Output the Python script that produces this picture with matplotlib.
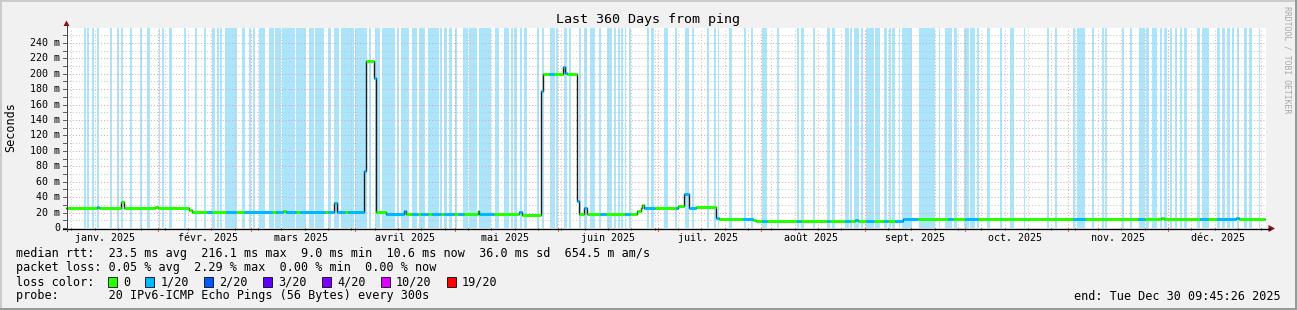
import matplotlib
matplotlib.use("Agg")
import matplotlib.pyplot as plt
from matplotlib.patches import Rectangle, Polygon
from matplotlib.lines import Line2D
from datetime import datetime, timedelta

# ---------------- data ----------------
end_time = datetime(2025, 12, 30, 9, 45, 26)
span_days = 360
start_time = end_time - timedelta(days=span_days)

title = "Last 360 Days from ping"
y_label = "Seconds"
y_upper_ms = 259.32          # smokeping upper limit (1.2 x max)
y_tick_ms = list(range(0, 241, 20))

# median rtt step series: start (days since start_time), value (ms), loss class index
rtt_day = [0, 9.2, 9.9, 16.5, 17.4, 26.7, 27.6, 37.0, 37.7, 42.3, 43.8, 48.0, 51.0, 53.4,
           61.8, 63.0, 65.1, 65.9, 69.0, 70.2, 77.7, 78.6, 80.3, 81.2, 83.7, 84.6, 89.3,
           90.1, 92.5, 93.1, 96.0, 101.3, 102.0, 103.8, 105.6, 106.5, 108.6, 109.8, 112.5,
           113.4, 116.4, 117.6, 119.4, 123.6, 124.0, 128.4, 135.9, 136.9, 142.6, 143.2,
           144.9, 146.4, 149.0, 149.6, 150.3, 153.2, 153.9, 155.4, 156.2, 160.2, 162.0,
           167.7, 169.2, 171.4, 172.4, 172.9, 173.4, 176.7, 183.0, 183.6, 185.5, 186.8,
           189.0, 195.0, 195.8, 203.1, 206.2, 207.0, 208.8, 210.3, 219.3, 220.5, 228.3,
           229.2, 233.7, 235.2, 236.7, 237.6, 240.0, 242.4, 245.4, 246.6, 248.7, 251.1,
           255.6, 264.6, 266.1, 269.7, 273.6, 302.1, 305.7, 321.6, 323.7, 328.4, 329.4,
           340.2, 342.6, 345.3, 351.0, 351.8]
rtt_ms = [26.5, 27.5, 26.5, 34, 26.5, 27.5, 26.5, 23, 20.5, 20.5, 20.5, 20.5, 20.5, 20.5,
          20.5, 20.5, 22.5, 20.5, 20.5, 20.5, 20.5, 20.5, 32, 20.5, 20.5, 20.5, 74,
          216.1, 194, 20.5, 17.8, 22, 17.8, 17.8, 17.8, 17.8, 17.8, 17.8, 17.8,
          17.8, 17.8, 17.8, 17.8, 22, 17.8, 17.8, 21, 17, 178, 199.5,
          199.5, 199.5, 209, 201, 200, 35, 17.8, 25.5, 17.8, 17.8, 17.8,
          17.8, 17.8, 22, 25.5, 30, 26.3, 26.3, 26.3, 28.5, 44, 26.3,
          27.5, 12.5, 11.2, 11.2, 10, 9.1, 9.1, 9.1, 9.1, 9.1, 9.1,
          9.1, 9.1, 9.1, 10, 9.1, 9.1, 9.1, 9.1, 9.1, 9.1, 11.2,
          11.2, 11.2, 11.2, 11.2, 11.2, 11.2, 11.2, 11.2, 11.2, 13.4, 11.2,
          11.2, 11.2, 11.2, 13.4, 11.2]
rtt_loss = [0, 1, 0, 0, 0, 0, 0, 0, 0, 1, 0, 1, 0, 1,
            0, 1, 0, 1, 0, 1, 0, 1, 1, 1, 0, 1, 1,
            0, 1, 0, 1, 1, 0, 1, 0, 1, 0, 1, 0,
            1, 0, 1, 0, 0, 1, 0, 1, 0, 1, 0,
            1, 0, 1, 1, 0, 1, 0, 1, 0, 1, 0,
            1, 0, 0, 0, 0, 1, 0, 1, 0, 1, 1,
            0, 1, 0, 1, 0, 0, 1, 0, 1, 0, 1,
            0, 1, 0, 1, 0, 1, 0, 1, 0, 1, 1,
            0, 1, 0, 1, 0, 1, 0, 1, 0, 0, 0,
            1, 0, 1, 1, 0]
rtt_last_day = 359.7

# periods with packet loss (days since start_time)
loss_bands = [(5.4, 5.9), (6.4, 6.9), (7.8, 8.4), (9.2, 9.9), (13.2, 13.8), (15.4, 15.9),
              (16.4, 17.0), (19.2, 19.8), (22.2, 22.8), (24.4, 25.2), (27.8, 28.3), (28.8, 29.4),
              (30.9, 31.8), (35.4, 36.0), (38.6, 39.2), (41.4, 42.0), (43.7, 44.8), (45.2, 45.8),
              (46.2, 46.8), (47.7, 51.2), (52.7, 53.7), (54.8, 55.5), (56.0, 56.6), (57.9, 59.6),
              (61.0, 62.4), (62.8, 64.4), (64.8, 68.6), (69.0, 72.0), (72.8, 74.4), (74.8, 77.3),
              (78.6, 79.6), (80.4, 82.0), (82.4, 86.4), (86.8, 90.2), (91.0, 91.6), (92.6, 94.2),
              (94.8, 98.6), (99.4, 99.8), (100.4, 102.8), (103.8, 105.3), (106.0, 107.8),
              (108.6, 111.8), (112.2, 112.8), (113.3, 114.4), (114.8, 115.8), (116.6, 117.3),
              (119.1, 120.6), (120.9, 123.3), (123.9, 127.6), (128.7, 129.8), (131.4, 132.9),
              (133.4, 134.0), (134.4, 135.4), (136.2, 136.8), (137.4, 138.2), (141.2, 142.0),
              (142.8, 143.4), (145.2, 146.6), (146.9, 147.6), (149.4, 150.4), (151.0, 151.6),
              (153.9, 154.6), (155.4, 156.2), (157.2, 158.8), (159.8, 160.6), (162.4, 163.8),
              (164.4, 165.0), (165.6, 166.2), (166.6, 167.1), (167.6, 168.1), (168.9, 169.6),
              (174.2, 175.0), (175.6, 176.4), (179.4, 180.6), (182.6, 183.2), (185.7, 187.0),
              (187.7, 188.3), (192.2, 193.0), (194.3, 195.0), (195.5, 196.0), (199.0, 199.8),
              (203.5, 204.1), (205.6, 206.2), (208.8, 210.3), (213.3, 214.0), (219.3, 220.0),
              (220.6, 221.3), (224.0, 224.6), (228.3, 229.2), (229.7, 230.6), (233.7, 234.8),
              (235.2, 235.8), (236.3, 237.8), (238.5, 239.0), (240.0, 242.4), (242.8, 244.2),
              (245.4, 246.4), (247.0, 247.5), (247.8, 248.8), (249.8, 250.2), (250.8, 253.8),
              (255.8, 260.6), (261.8, 262.2), (263.7, 265.8), (266.3, 267.3), (269.3, 270.8),
              (271.1, 272.8), (273.3, 273.9), (276.3, 277.2), (280.2, 280.8), (283.2, 284.4),
              (287.3, 287.7), (294.3, 294.9), (296.7, 297.3), (302.2, 302.6), (303.2, 305.7),
              (307.8, 308.4), (310.7, 311.3), (311.6, 312.2), (316.7, 317.4), (319.2, 319.8),
              (321.9, 323.8), (324.1, 324.8), (325.8, 327.4), (328.2, 328.9), (329.4, 330.2),
              (331.2, 331.8), (332.7, 333.3), (334.2, 334.8), (335.5, 336.2), (339.3, 340.2),
              (340.8, 342.8), (345.3, 346.2), (346.9, 347.8), (348.4, 349.2), (349.8, 350.4),
              (351.3, 351.9), (353.3, 354.3), (354.8, 355.8), (357.8, 358.2)]

loss_labels = ["0", "1/20", "2/20", "3/20", "4/20", "10/20", "19/20"]
loss_colors = ["#26ff00", "#00b8ff", "#0059ff", "#5e00ff", "#7e00ff", "#dd00ff", "#ff0000"]

month_names = ["janv.", "févr.", "mars", "avril", "mai", "juin", "juil.", "août",
               "sept.", "oct.", "nov.", "déc."]

legend_rtt = "median rtt:  23.5 ms avg  216.1 ms max  9.0 ms min  10.6 ms now  36.0 ms sd  654.5 m am/s"
legend_loss = "packet loss: 0.05 % avg  2.29 % max  0.00 % min  0.00 % now"
legend_color_title = "loss color:"
legend_probe = "probe:       20 IPv6-ICMP Echo Pings (56 Bytes) every 300s"
legend_end = "end: Tue Dec 30 09:45:26 2025"
watermark = "RRDTOOL / TOBI OETIKER"

# ---------------- style ----------------
W, H, DPI = 1297, 310, 100
BG = "#f1f1f1"
BAND = "#abe5fb"
MINOR = "#c8c8c8"
MAJOR = "#e6a3a3"
ARROW = "#8b1010"
MONO = "DejaVu Sans Mono"
PX = 72.0 / DPI

def fx(px):
    return px / W

def fy(py):
    return 1 - py / H

def day_of(dt):
    return (dt - start_time).total_seconds() / 86400.0

fig = plt.figure(figsize=(W / DPI, H / DPI), dpi=DPI, facecolor=BG)

L, T, PW, PH = 66, 28, 1200, 200
ax = fig.add_axes([fx(L), fy(T + PH), PW / W, PH / H])
ax.set_xlim(0, span_days)
ax.set_ylim(0, y_upper_ms)
ax.set_facecolor("white")
for s in ax.spines.values():
    s.set_visible(False)
ax.set_xticks([])
ax.set_yticks([])

# loss bands
for a, b in loss_bands:
    ax.axvspan(a, b, color=BAND, lw=0, zorder=1, antialiased=False)

# grid
dots = (0, (1, 2))
for v in range(10, int(y_upper_ms), 10):
    ax.axhline(v, color=MAJOR if v % 20 == 0 else MINOR, lw=0.75, ls=dots, zorder=2)

week = datetime(2025, 1, 6)
week_days = []
while week <= end_time:
    week_days.append(day_of(week))
    week += timedelta(days=7)
for d in week_days:
    ax.axvline(d, color=MINOR, lw=0.75, ls=dots, zorder=2)

month_days = []
for m in range(1, 13):
    d = day_of(datetime(2025, m, 1))
    if 0 <= d <= span_days:
        month_days.append(d)
        ax.axvline(d, color=MAJOR, lw=0.75, ls=dots, zorder=2)

# median rtt line
xs = rtt_day + [rtt_last_day]
ys = rtt_ms + [rtt_ms[-1]]
ax.step(xs, ys, where="post", color="#1c1c1c", lw=1.0, zorder=4)
for i in range(len(rtt_ms)):
    ax.hlines(rtt_ms[i], xs[i], xs[i + 1], color=loss_colors[rtt_loss[i]],
              lw=3 * PX, zorder=5, capstyle="butt")

# y tick labels + ticks
ytr = ax.get_yaxis_transform()
for v in y_tick_ms:
    lab = f"{v} m" if v else "0"
    ax.text(-6 / PW, v, lab, transform=ytr, ha="right", va="center",
            fontsize=7.2, family=MONO, color="black", clip_on=False)
for v in range(0, int(y_upper_ms), 10):
    ax.plot([-3 / PW, 0], [v, v], transform=ytr, color="#606060", lw=PX, clip_on=False, zorder=6)

# x tick labels + ticks
xtr = ax.get_xaxis_transform()
for m in range(1, 13):
    d = day_of(datetime(2025, m, 1) + timedelta(days=15))
    ax.text(d, -10 / PH, f"{month_names[m - 1]} 2025", transform=xtr, ha="center",
            va="center", fontsize=7.2, family=MONO, clip_on=False)
for d in week_days:
    ax.plot([d, d], [-2 / PH, 0], transform=xtr, color="#909090", lw=PX, clip_on=False, zorder=6)
for d in month_days:
    ax.plot([d, d], [-3 / PH, 0], transform=xtr, color="#e06060", lw=PX, clip_on=False, zorder=6)

# axes lines and arrows
fig.add_artist(Line2D([fx(63), fx(1270)], [fy(228.5), fy(228.5)], color="black", lw=1.3 * PX))
fig.add_artist(Line2D([fx(66.5), fx(66.5)], [fy(231), fy(24)], color="#404040", lw=PX))
fig.add_artist(Polygon([(fx(63.5), fy(26)), (fx(69.5), fy(26)), (fx(66.5), fy(20.5))],
                       closed=True, color=ARROW, lw=0))
fig.add_artist(Polygon([(fx(1268.5), fy(225)), (fx(1268.5), fy(232)), (fx(1275), fy(228.5))],
                       closed=True, color=ARROW, lw=0))

# title, axis label, watermark
fig.text(0.5, fy(19), title, ha="center", va="center", fontsize=9.6, family=MONO)
fig.text(fx(11), fy(127), y_label, ha="center", va="center", rotation=90,
         fontsize=8.5, family=MONO)
fig.text(fx(1287), fy(6), watermark, ha="center", va="top", rotation=270,
         fontsize=5.9, family=MONO, color="#a8a8a8")

# legend
CW = 7.1
LX = 16
fig.text(fx(LX), fy(254), legend_rtt, ha="left", va="center", fontsize=8.5, family=MONO)
fig.text(fx(LX), fy(268), legend_loss, ha="left", va="center", fontsize=8.5, family=MONO)
fig.text(fx(LX), fy(282), legend_color_title, ha="left", va="center", fontsize=8.5, family=MONO)
fig.text(fx(LX), fy(296), legend_probe, ha="left", va="center", fontsize=8.5, family=MONO)
fig.text(fx(1281), fy(296), legend_end, ha="right", va="center", fontsize=8.5, family=MONO)

bx = LX + 13 * CW - 0.5
for lab, col in zip(loss_labels, loss_colors):
    fig.add_artist(Rectangle((fx(bx), fy(287)), 9 / W, 10 / H, facecolor=col,
                             edgecolor="black", lw=0.8 * PX))
    tx = bx + 15
    fig.text(fx(tx), fy(282), lab, ha="left", va="center", fontsize=8.5, family=MONO)
    bx = tx + len(lab) * CW + 15.5

# frame (3D shading)
fig.add_artist(Line2D([0, 1], [fy(1), fy(1)], color="#cbcbcb", lw=2 * PX))
fig.add_artist(Line2D([fx(1), fx(1)], [0, 1], color="#cbcbcb", lw=2 * PX))
fig.add_artist(Line2D([0, 1], [fy(309), fy(309)], color="#999999", lw=2 * PX))
fig.add_artist(Line2D([fx(1296), fx(1296)], [0, 1], color="#999999", lw=2 * PX))

fig.savefig("out.png", dpi=DPI, facecolor=BG)
